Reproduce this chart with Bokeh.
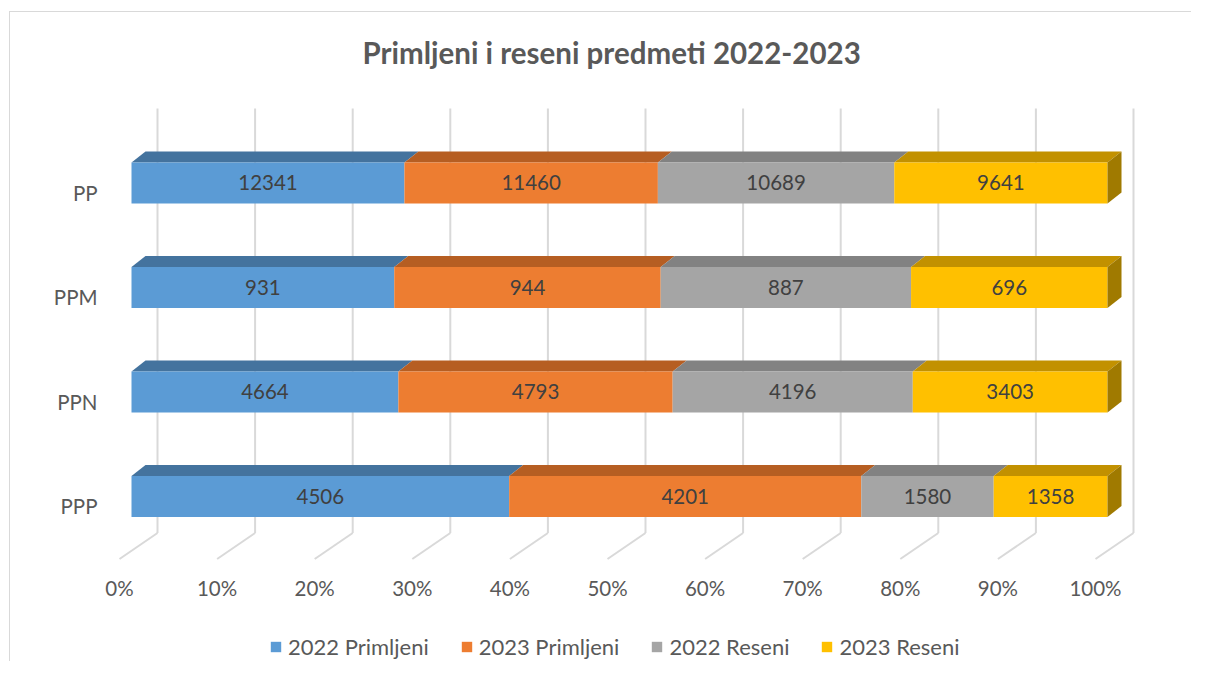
import numpy as np
from bokeh.plotting import figure
from bokeh.models import (Range1d, FixedTicker, PrintfTickFormatter, Legend, LegendItem,
                          ColumnDataSource, InlineStyleSheet)
from bokeh.core.properties import value
from bokeh.embed import file_html
from bokeh.resources import INLINE

# ---------------- data ----------------
categories = ["PP", "PPM", "PPN", "PPP"]          # top to bottom
series_names = ["2022 Primljeni", "2023 Primljeni", "2022 Reseni", "2023 Reseni"]
primljeni_2022 = [12341, 931, 4664, 4506]
primljeni_2023 = [11460, 944, 4793, 4201]
reseni_2022 = [10689, 887, 4196, 1580]
reseni_2023 = [9641, 696, 3403, 1358]
x_ticks = [0, 10, 20, 30, 40, 50, 60, 70, 80, 90, 100]

# ---------------- styles ----------------
front_colors = ["#5B9BD5", "#ED7D31", "#A5A5A5", "#FFC000"]
top_colors = ["#44739E", "#B65E22", "#828282", "#C29100"]
side_color = "#A07A00"
grid_color = "#D9D9D9"
text_color = "#404040"
axis_text_color = "#595959"
FONT = "Lato"

W, H = 1191, 661
BL, BR, BT, BB = 99, 41, 100, 0
FW = W - BL - BR
FH = H - BT - BB
FLOOR0 = 119    # screen px of 0 % on the floor front edge

# pixel scale of the projection
PXX = 9.76      # px per percent on the front plane
PXY = 104.5     # px per category step
x_start = -(FLOOR0 - BL) / PXX
x_end = x_start + FW / PXX
y_end = 3 + 92 / PXY
y_start = y_end - FH / PXY

def dx(px):
    return px / PXX

def dy(px):
    return px / PXY

chart_border = InlineStyleSheet(css="""
:host::after {
  content: "";
  position: absolute;
  left: 9px; top: 11px; right: 0; bottom: 0;
  border-left: 1px solid #D9D9D9;
  border-top: 1px solid #D9D9D9;
  pointer-events: none;
}
""")

p = figure(width=W, height=H, output_backend="svg", toolbar_location=None,
           x_range=Range1d(x_start, x_end), y_range=Range1d(y_start, y_end),
           x_axis_location="above",
           min_border_left=BL, min_border_right=BR, min_border_top=BT, min_border_bottom=BB,
           title="Primljeni i reseni predmeti 2022-2023")
p.stylesheets = [chart_border]
p.outline_line_color = None
p.xgrid.visible = False
p.ygrid.visible = False
p.background_fill_color = "white"
p.border_fill_color = "white"

p.title.text_font = FONT
p.title.text_font_size = "29.5px"
p.title.text_font_style = "bold"
p.title.text_color = "#595959"
p.title.align = "left"
p.title.offset = 263
p.title.standoff = 62

# ---------------- walls / grid ----------------
n_cat = len(categories)
y_index = list(range(n_cat - 1, -1, -1))   # PP=3 ... PPP=0
floor_back = 0 - dy(27)
floor_front = 0 - dy(53)
wall_top = (n_cat - 1) + dy(84)
back_off = dx(38)

p.segment(x0=[t + back_off for t in x_ticks], y0=[floor_back] * len(x_ticks),
          x1=[t + back_off for t in x_ticks], y1=[wall_top] * len(x_ticks),
          line_color=grid_color, line_width=2)
p.segment(x0=[t + back_off for t in x_ticks], y0=[floor_back] * len(x_ticks),
          x1=x_ticks, y1=[floor_front] * len(x_ticks),
          line_color=grid_color, line_width=2)

# ---------------- bars ----------------
vals = np.array([primljeni_2022, primljeni_2023, reseni_2022, reseni_2023], dtype=float)  # series x cat
totals = vals.sum(axis=0)
shares = vals / totals * 100
cum = np.cumsum(shares, axis=0)
left = cum - shares

front_off = dx(12)
d3x = dx(14)
d3y = dy(11)
face_top = dy(30)
face_bot = dy(11)

legend_items = []
for s in range(len(series_names)):
    l = left[s] + front_off
    r = cum[s] + front_off
    yc = np.array(y_index, dtype=float)
    top = yc + face_top
    bot = yc - face_bot
    xs_top = [[l[i], r[i], r[i] + d3x, l[i] + d3x] for i in range(n_cat)]
    ys_top = [[top[i], top[i], top[i] + d3y, top[i] + d3y] for i in range(n_cat)]
    p.patches(xs_top, ys_top, fill_color=top_colors[s], line_color=None)
    fr = p.quad(left=l, right=r, top=top, bottom=bot, fill_color=front_colors[s], line_color=None)
    legend_items.append(LegendItem(label=series_names[s], renderers=[fr]))
    if s == len(series_names) - 1:
        xs_side = [[r[i], r[i] + d3x, r[i] + d3x, r[i]] for i in range(n_cat)]
        ys_side = [[bot[i], bot[i] + d3y, top[i] + d3y, top[i]] for i in range(n_cat)]
        p.patches(xs_side, ys_side, fill_color=side_color, line_color=None)
    src = ColumnDataSource(dict(x=(l + r) / 2, y=yc + dy(10),
                                t=[str(int(v)) for v in vals[s]]))
    p.text(x="x", y="y", text="t", source=src, text_align="center", text_baseline="middle",
           text_font=value(FONT), text_font_size="20.5px", text_color=text_color)

# ---------------- axes ----------------
xax = p.xaxis[0]
xax.fixed_location = 0 - dy(98)
xax.ticker = FixedTicker(ticks=x_ticks)
xax.formatter = PrintfTickFormatter(format="%d%%")
xax.axis_line_color = None
xax.major_tick_line_color = None
xax.minor_tick_line_color = None
xax.major_tick_out = 0
xax.major_label_standoff = 4
xax.major_label_text_font = FONT
xax.major_label_text_font_size = "20.5px"
xax.major_label_text_color = axis_text_color

p.yaxis.ticker = FixedTicker(ticks=y_index)
p.yaxis.major_label_overrides = {y_index[i]: categories[i] for i in range(n_cat)}
p.yaxis.axis_line_color = None
p.yaxis.major_tick_line_color = None
p.yaxis.minor_tick_line_color = None
p.yaxis.major_tick_out = 0
p.yaxis.major_label_standoff = 2
p.yaxis.major_label_text_font = FONT
p.yaxis.major_label_text_font_size = "20.5px"
p.yaxis.major_label_text_color = axis_text_color

legend = Legend(items=legend_items, orientation="horizontal", location=(170, 1),
                glyph_width=13, glyph_height=13, label_text_font=FONT,
                label_text_font_size="22px", label_text_color=axis_text_color,
                label_height=22, spacing=31, padding=2, margin=0, border_line_color=None,
                label_standoff=6, background_fill_alpha=0)
p.add_layout(legend, "center")

open("out.html", "w").write(file_html(p, INLINE))
